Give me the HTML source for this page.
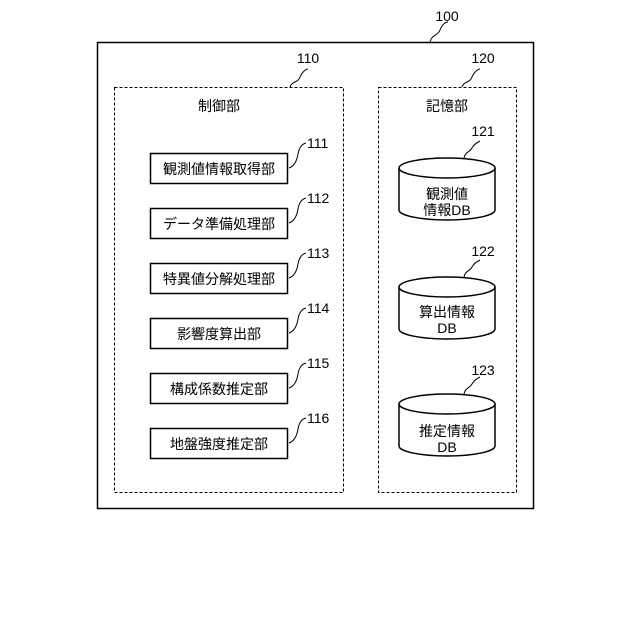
<!DOCTYPE html>
<html><head><meta charset="utf-8"><style>body{margin:0;background:#fff}svg{display:block}text{font-family:"Liberation Sans","Noto Sans CJK JP",sans-serif;fill:#000}</style></head><body>
<svg width="640" height="640" viewBox="0 0 640 640">
<rect x="97.5" y="42.5" width="436" height="466" fill="none" stroke="#000" stroke-width="1.5"/>
<rect x="114.5" y="87.5" width="229" height="405" fill="none" stroke="#000" stroke-dasharray="3,2"/>
<rect x="378.5" y="87.5" width="138" height="405" fill="none" stroke="#000" stroke-dasharray="3,2"/>
<g font-size="14" text-anchor="middle">
<text x="447" y="21">100</text><text x="308" y="63">110</text><text x="483" y="63">120</text>
<text x="219" y="111">制御部</text><text x="447" y="111">記憶部</text>
</g>
<g fill="none" stroke="#000" stroke-width="1">
<path d="M430 42 c2-8 8-6 10-12 c2-6 6-8 8-8"/>
<path d="M290 87 c2-6 8-4 10-10 c2-5 6-8 8-8"/>
<path d="M462 87 c2-6 8-4 10-10 c2-5 6-8 8-8"/>
</g>
<g fill="#fff" stroke="#000" stroke-width="1.5">
<rect x="150.5" y="153.5" width="137" height="30"/>
<rect x="150.5" y="208.5" width="137" height="30"/>
<rect x="150.5" y="263.5" width="137" height="30"/>
<rect x="150.5" y="318.5" width="137" height="30"/>
<rect x="150.5" y="373.5" width="137" height="30"/>
<rect x="150.5" y="428.5" width="137" height="30"/>
</g>
<g font-size="14" text-anchor="middle">
<text x="219" y="174">観測値情報取得部</text>
<text x="219" y="229">データ準備処理部</text>
<text x="219" y="284">特異値分解処理部</text>
<text x="219" y="339">影響度算出部</text>
<text x="219" y="394">構成係数推定部</text>
<text x="219" y="449">地盤強度推定部</text>
</g>
<g fill="none" stroke="#000" stroke-width="1">
<path d="M289 168 c6-2 8-8 9-14 c1-6 4-10 8-11"/>
<path d="M289 223 c6-2 8-8 9-14 c1-6 4-10 8-11"/>
<path d="M289 278 c6-2 8-8 9-14 c1-6 4-10 8-11"/>
<path d="M289 333 c6-2 8-8 9-14 c1-6 4-10 8-11"/>
<path d="M289 388 c6-2 8-8 9-14 c1-6 4-10 8-11"/>
<path d="M289 443 c6-2 8-8 9-14 c1-6 4-10 8-11"/>
</g>
<g font-size="14">
<text x="307" y="148">111</text><text x="307" y="203">112</text><text x="307" y="258">113</text>
<text x="307" y="313">114</text><text x="307" y="368">115</text><text x="307" y="423">116</text>
</g>
<g fill="#fff" stroke="#000" stroke-width="1.5">
<path d="M399 168 v42 a48 10 0 0 0 96 0 v-42"/><ellipse cx="447" cy="168" rx="48" ry="10"/>
<path d="M399 287 v42 a48 10 0 0 0 96 0 v-42"/><ellipse cx="447" cy="287" rx="48" ry="10"/>
<path d="M399 404 v42 a48 10 0 0 0 96 0 v-42"/><ellipse cx="447" cy="404" rx="48" ry="10"/>
</g>
<g fill="none" stroke="#000" stroke-width="1">
<path d="M464 158 c1-6 6-6 8-10 c2-4 6-6 8-7"/>
<path d="M464 277 c1-6 6-6 8-10 c2-4 6-6 8-7"/>
<path d="M464 394 c1-6 6-6 8-10 c2-4 6-6 8-7"/>
</g>
<g font-size="14" text-anchor="middle">
<text x="483" y="136">121</text><text x="483" y="256">122</text><text x="483" y="375">123</text>
<text x="447" y="199">観測値</text><text x="447" y="215">情報DB</text>
<text x="447" y="317">算出情報</text><text x="447" y="333">DB</text>
<text x="447" y="436">推定情報</text><text x="447" y="452">DB</text>
</g>
</svg>
</body></html>
